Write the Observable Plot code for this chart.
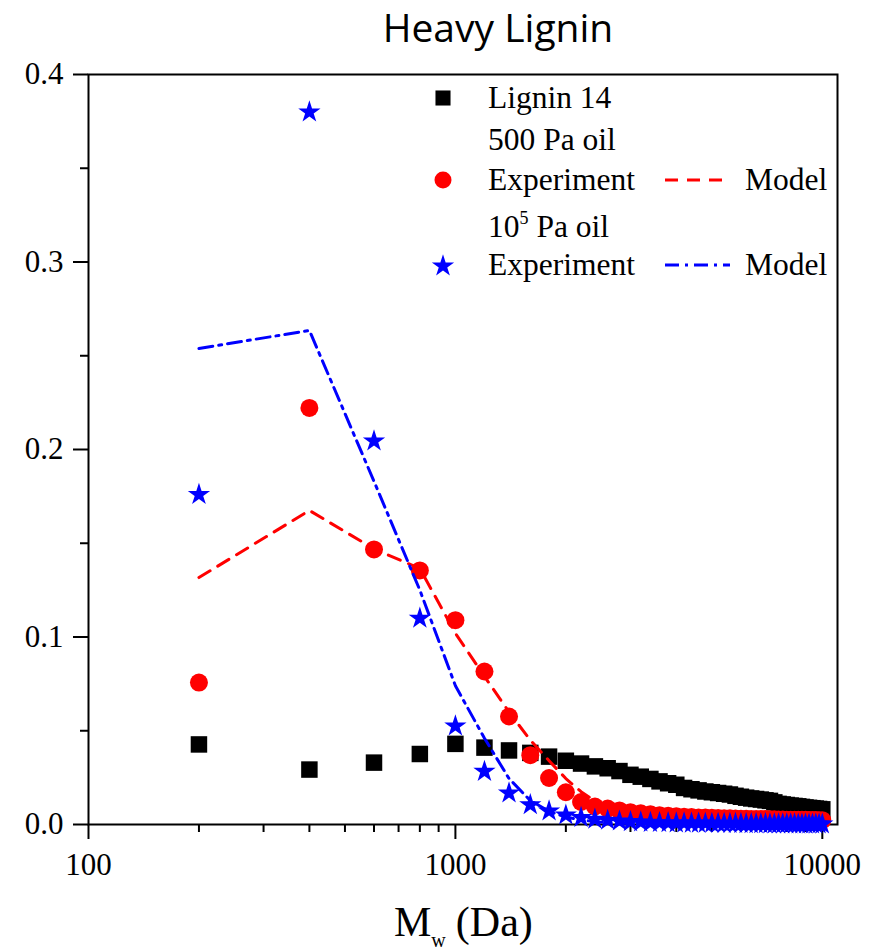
<!DOCTYPE html>
<html><head><meta charset="utf-8">
<script src="https://cdn.jsdelivr.net/npm/d3@7"></script>
<script src="https://cdn.jsdelivr.net/npm/@observablehq/plot@0.6"></script>
<style>
body{margin:0;background:#fff}
#wrap{width:871px;height:952px;overflow:hidden;background:#fff}
#title{box-sizing:border-box;width:871px;height:50px;padding-left:125px;text-align:center;
  font-family:'Open Sans',sans-serif;font-size:39px;line-height:53.7px;color:#000;white-space:nowrap}
#chart svg{display:block}
</style>
</head><body><div id="wrap"><div id="title"></div><div id="chart"></div></div>
<script>
const title = "Heavy Lignin";
const mw = [200,400,600,800,1000,1200,1400,1600,1800,2000,2200,2400,2600,2800,3000,3200,3400,3600,3800,4000,
  4200,4400,4600,4800,5000,5200,5400,5600,5800,6000,6200,6400,6600,6800,7000,7200,7400,7600,7800,8000,
  8200,8400,8600,8800,9000,9200,9400,9600,9800,10000];
const lignin14 = [0.0427,0.0293,0.0330,0.0376,0.0430,0.0410,0.0395,0.0382,0.0362,0.0340,0.0325,0.0310,0.0300,0.0285,0.0265,0.0255,0.0243,0.0230,0.0220,0.0212,
  0.0195,0.0188,0.0182,0.0176,0.0172,0.0168,0.0164,0.0160,0.0153,0.0148,0.0143,0.0139,0.0136,0.0133,0.0129,0.0126,0.0118,0.0110,0.0107,0.0104,
  0.0101,0.0099,0.0097,0.0094,0.0091,0.0089,0.0087,0.0085,0.0083,0.0081];
const exp500 = [0.0757,0.2222,0.1467,0.1355,0.1090,0.0816,0.0576,0.0370,0.0248,0.0172,0.0120,0.0096,0.0085,0.0075,0.0066,0.0060,0.0055,0.0050,0.0047,0.0044,
  0.0042,0.0040,0.0038,0.0037,0.0036,0.0035,0.0034,0.0033,0.0032,0.0031,0.0031,0.0030,0.0030,0.0029,0.0029,0.0028,0.0028,0.0027,0.0027,0.0026,
  0.0026,0.0026,0.0025,0.0025,0.0025,0.0024,0.0024,0.0024,0.0023,0.0023];
const model500 = [0.1317,0.1675,0.1470,0.1365,0.1020,0.0790,0.0600,0.0450,0.0340,0.0245,0.0175,0.0125,0.0090,0.0068,0.0052,0.0042,0.0035,0.0030,0.0026,0.0023,
  0.0021,0.0019,0.0018,0.0017,0.0016,0.0015,0.0015,0.0014,0.0014,0.0013,0.0013,0.0013,0.0012,0.0012,0.0012,0.0012,0.0011,0.0011,0.0011,0.0011,
  0.0011,0.0010,0.0010,0.0010,0.0010,0.0010,0.0010,0.0010,0.0010,0.0010];
const exp1e5 = [0.1760,0.3800,0.2045,0.1100,0.0525,0.0283,0.0168,0.0105,0.0072,0.0050,0.0037,0.0028,0.0022,0.0018,0.0015,0.0013,0.0011,0.0010,0.0009,0.0008,
  0.0008,0.0007,0.0007,0.0006,0.0006,0.0006,0.0005,0.0005,0.0005,0.0005,0.0004,0.0004,0.0004,0.0004,0.0004,0.0003,0.0003,0.0003,0.0003,0.0003,
  0.0003,0.0003,0.0002,0.0002,0.0002,0.0002,0.0002,0.0002,0.0002,0.0002];
const model1e5 = [0.2539,0.2635,0.1830,0.1250,0.0740,0.0460,0.0245,0.0128,0.0070,0.0040,0.0024,0.0015,0.0010,0.0007,0.0005,0.0004,0.0003,0.0003,0.0002,0.0002,
  0.0002,0.0002,0.0001,0.0001,0.0001,0.0001,0.0001,0.0001,0.0001,0.0001,0.0001,0.0001,0.0001,0.0001,0.0001,0.0001,0.0001,0.0001,0.0001,0.0001,
  0.0001,0.0001,0.0001,0.0001,0.0001,0.0001,0.0001,0.0001,0.0001,0.0001];
const xTicks = [100, 1000, 10000];
const xMinorTicks = [200,300,400,500,600,700,800,900,2000,3000,4000,5000,6000,7000,8000,9000];
const yTicks = [0, 0.1, 0.2, 0.3, 0.4];
const yMinorTicks = [0.05, 0.15, 0.25, 0.35];
const legendTexts = ["Lignin 14", "500 Pa oil", "Experiment", "Model", "10", "5", " Pa oil", "Experiment", "Model"];
const xLabelParts = ["M", "w", "(Da)"];

document.getElementById("title").textContent = title;

const rows = ys => mw.map((x, i) => ({x, y: ys[i]}));
const serif = "'Liberation Serif', 'Times New Roman', serif";
const TOP = 50; // height of the HTML title block above the SVG

const chart = Plot.plot({
  width: 871, height: 952 - TOP,
  marginLeft: 88, marginRight: 34, marginTop: 74 - TOP, marginBottom: 128,
  x: {type: "log", domain: [100, 11000]},
  y: {domain: [0, 0.4]},
  style: {fontFamily: serif, fontSize: "31px", color: "black", background: "transparent"},
  marks: [
    Plot.axisX(xMinorTicks, {tickSize: 8, strokeWidth: 2, tickFormat: () => "", label: null}),
    Plot.axisX(xTicks, {tickSize: 15, tickPadding: 13, strokeWidth: 2, tickFormat: d => String(d), label: null, fontSize: 31}),
    Plot.axisY(yMinorTicks, {tickSize: 8, strokeWidth: 2, tickFormat: () => "", label: null}),
    Plot.axisY(yTicks, {tickSize: 15, tickPadding: 10, strokeWidth: 2, tickFormat: d3.format(".1f"), label: null, fontSize: 31}),
    Plot.frame({stroke: "black", strokeWidth: 2}),
    Plot.dot(rows(lignin14), {x: "x", y: "y", symbol: "square", r: 9.3, fill: "black"}),
    Plot.dot(rows(exp500), {x: "x", y: "y", symbol: "circle", r: 9, fill: "#ff0000"}),
    Plot.line(rows(model500), {x: "x", y: "y", stroke: "#ff0000", strokeWidth: 3, strokeDasharray: "13,9"}),
    Plot.dot(rows(exp1e5), {x: "x", y: "y", symbol: "star", r: 7, fill: "#0000ff"}),
    Plot.line(rows(model1e5), {x: "x", y: "y", stroke: "#0000ff", strokeWidth: 3, strokeDasharray: "14,6,3,6"})
  ]
});
document.getElementById("chart").appendChild(chart);

const svg = d3.select(chart);
// everything below is placed in page coordinates, shifted by the title block
const g = svg.append("g").attr("transform", `translate(0,${-TOP})`).attr("text-anchor", "start");
// x label
const xl = g.append("text").attr("x", 394).attr("y", 936)
  .attr("font-family", serif).attr("font-size", 42).attr("fill", "black");
xl.append("tspan").text(xLabelParts[0]);
xl.append("tspan").attr("font-size", 20).attr("dy", 11).text(xLabelParts[1]);
xl.append("tspan").attr("font-size", 42).attr("dy", -11).attr("dx", 10).text(xLabelParts[2]);

// legend
const lg = g.append("g").attr("font-family", serif).attr("font-size", 31.5).attr("fill", "black");
lg.append("path").attr("d", d3.symbol(d3.symbolSquare, Math.PI * 8.5 * 8.5)()).attr("transform", "translate(443,98)").attr("fill", "black");
lg.append("text").attr("x", 488).attr("y", 108).text(legendTexts[0]);
lg.append("text").attr("x", 488).attr("y", 150).text(legendTexts[1]);
lg.append("path").attr("d", d3.symbol(d3.symbolCircle, Math.PI * 8.5 * 8.5)()).attr("transform", "translate(443,180)").attr("fill", "#ff0000");
lg.append("text").attr("x", 488).attr("y", 190).text(legendTexts[2]);
lg.append("line").attr("x1", 665).attr("x2", 730).attr("y1", 180).attr("y2", 180)
  .attr("stroke", "#ff0000").attr("stroke-width", 3).attr("stroke-dasharray", "13,9");
lg.append("text").attr("x", 745).attr("y", 190).text(legendTexts[3]);
const t5 = lg.append("text").attr("x", 488).attr("y", 237);
t5.append("tspan").text(legendTexts[4]);
t5.append("tspan").attr("font-size", 18).attr("dy", -13).text(legendTexts[5]);
t5.append("tspan").attr("dy", 13).text(legendTexts[6]);
lg.append("path").attr("d", d3.symbol(d3.symbolStar, Math.PI * 7 * 7)()).attr("transform", "translate(443,266)").attr("fill", "#0000ff");
lg.append("text").attr("x", 488).attr("y", 275).text(legendTexts[7]);
lg.append("line").attr("x1", 665).attr("x2", 730).attr("y1", 265).attr("y2", 265)
  .attr("stroke", "#0000ff").attr("stroke-width", 3).attr("stroke-dasharray", "14,6,3,6");
lg.append("text").attr("x", 745).attr("y", 275).text(legendTexts[8]);
</script>
</body></html>
